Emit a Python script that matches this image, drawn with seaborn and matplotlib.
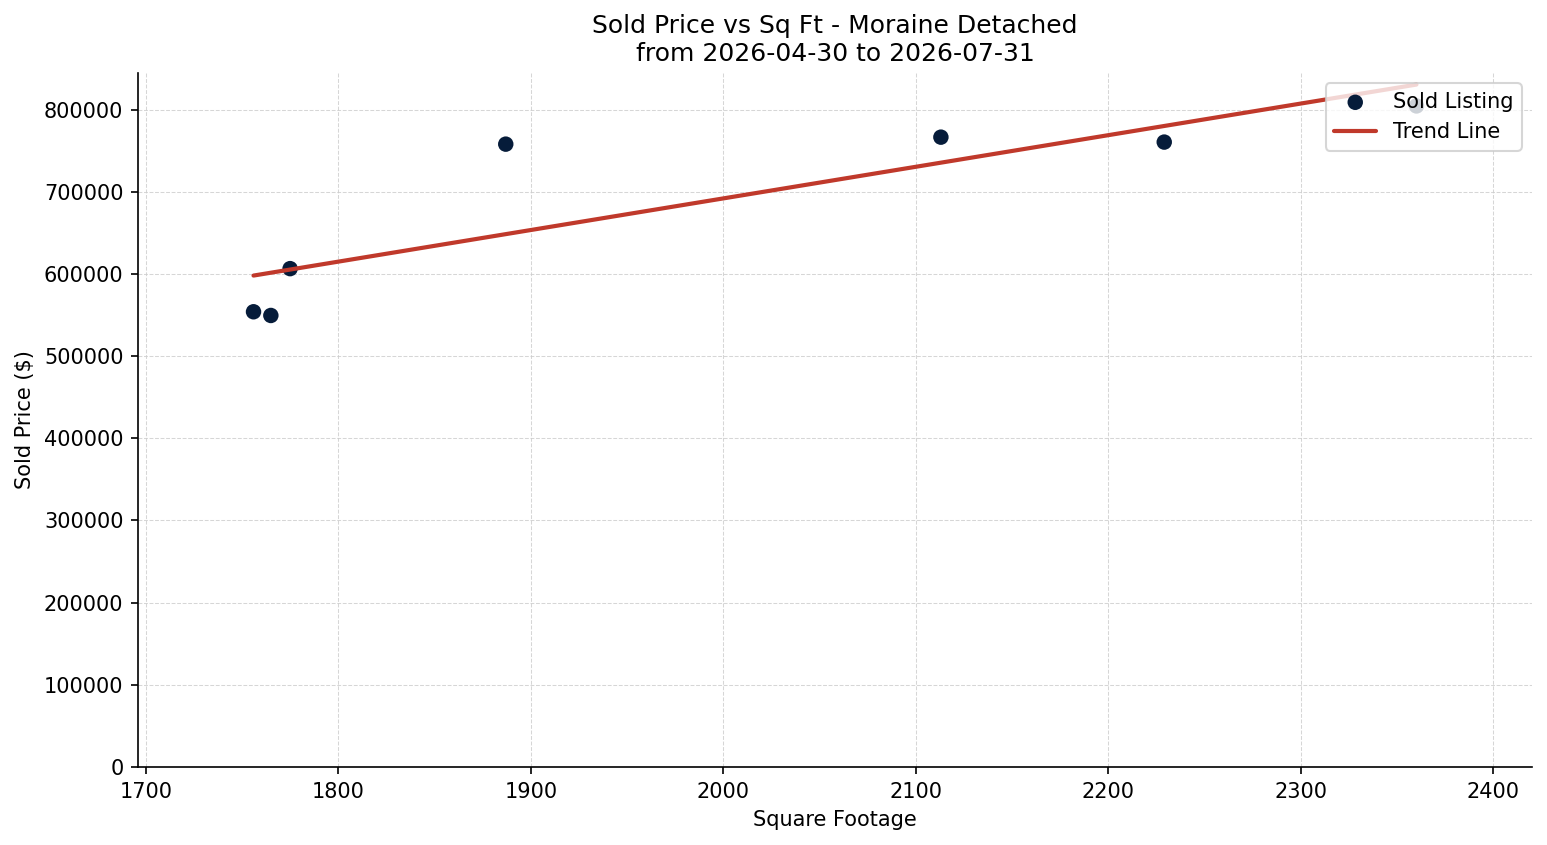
import numpy as np
import pandas as pd
import seaborn as sns
import matplotlib
matplotlib.use("Agg")
import matplotlib.pyplot as plt

# sold listings
sqft = [1756, 1765, 1775, 1887, 2113, 2229, 2360]
price = [554000, 549500, 606500, 758000, 766500, 760500, 804500]

title = "Sold Price vs Sq Ft - Moraine Detached\nfrom 2026-04-30 to 2026-07-31"

df = pd.DataFrame({"sqft": sqft, "price": price})

# linear trend
slope, intercept = np.polyfit(df["sqft"], df["price"], 1)
trend = pd.DataFrame({"sqft": [min(sqft), max(sqft)]})
trend["price"] = slope * trend["sqft"] + intercept

sns.set_style("ticks")
plt.rcParams["font.family"] = ["DejaVu Sans"]
for k in ["text.color", "axes.labelcolor", "xtick.color", "ytick.color", "axes.edgecolor"]:
    plt.rcParams[k] = "black"

fig, ax = plt.subplots(figsize=(1547 / 150, 845 / 150), dpi=150)
fig.subplots_adjust(left=0.0892, right=0.9903, top=0.9136, bottom=0.0923)

sns.scatterplot(data=df, x="sqft", y="price", color="#061c3a", s=55,
                edgecolor="none", label="Sold Listing", ax=ax, zorder=2)
sns.lineplot(data=trend, x="sqft", y="price", color="#c0392b", linewidth=2,
             label="Trend Line", ax=ax, zorder=3)

ax.set_xlim(min(sqft) - 60, max(sqft) + 60)
ax.set_ylim(bottom=0)
ax.set_yticks(np.arange(0, 800001, 100000))
ax.ticklabel_format(axis="y", style="plain", useOffset=False)

ax.set_title(title, fontsize=12)
ax.set_xlabel("Square Footage")
ax.set_ylabel("Sold Price ($)")
ax.grid(True, linestyle="--", linewidth=0.5, color="#cccccc", alpha=0.8)
ax.set_axisbelow(True)
sns.despine(ax=ax)
ax.legend(loc="upper right")

fig.savefig("out.png", dpi=150)
